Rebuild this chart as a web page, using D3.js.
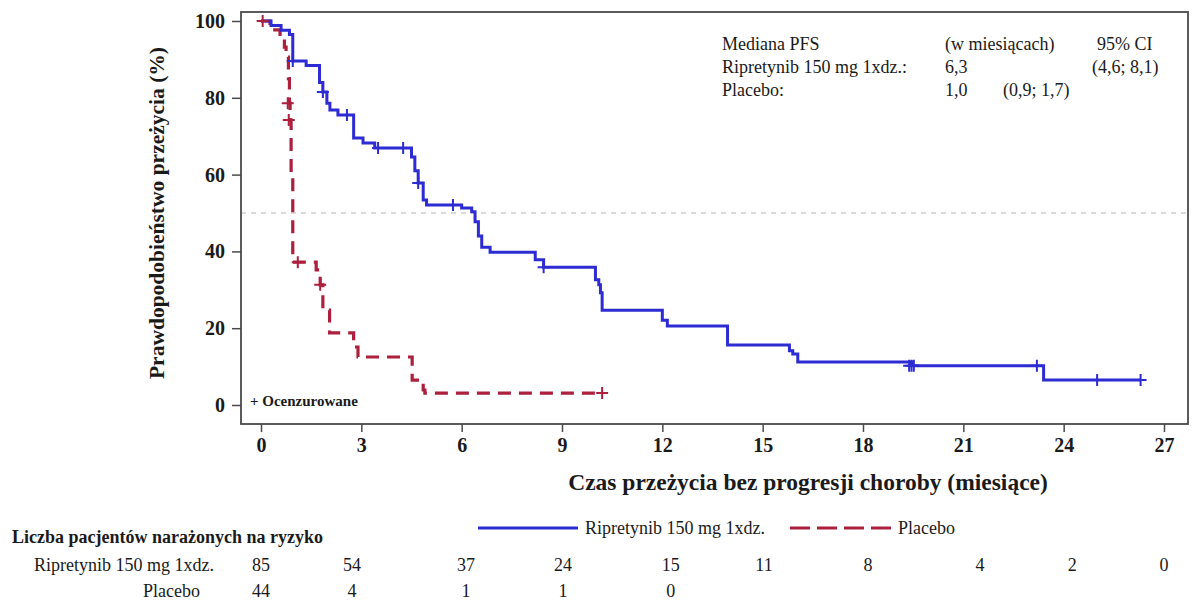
<!DOCTYPE html>
<html>
<head>
<meta charset="utf-8">
<script src="https://cdn.jsdelivr.net/npm/d3@7"></script>
<style>
  html, body { margin: 0; padding: 0; background: #fff; }
  svg { display: block; }
  text { font-family: "Liberation Serif", "Times New Roman", serif; fill: #1a1a1a; }
</style>
</head>
<body>
<svg id="chart" width="1204" height="601"></svg>
<script>
// Kaplan–Meier step data: time (months) and survival probability (%) after each step
const riprTimes = [0, 0.3, 0.6, 0.85, 0.95, 1.35, 1.75, 1.85, 1.97, 2.06, 2.3, 2.77, 3.05, 3.4, 4.5, 4.6, 4.7, 4.85, 4.95, 6.0, 6.3, 6.4, 6.5, 6.6, 6.85, 8.2, 8.45, 10.0, 10.1, 10.15, 10.2, 12.0, 12.15, 13.95, 15.8, 15.9, 16.05, 19.45, 23.4, 26.3];
const riprSurv  = [100, 98.8, 97.6, 96.5, 89.6, 88.4, 84.0, 81.5, 78.6, 76.8, 75.5, 69.5, 68.2, 66.9, 64.6, 61.0, 57.8, 53.4, 52.1, 51.3, 50.3, 47.7, 44.0, 41.1, 39.8, 37.8, 35.9, 32.6, 31.3, 29.2, 24.7, 22.1, 20.6, 15.6, 14.1, 13.3, 11.2, 10.2, 6.5, 6.5];
const riprCensT = [0.95, 1.85, 2.57, 3.5, 4.25, 4.7, 5.74, 8.45, 19.38, 19.45, 19.52, 23.2, 25.0, 26.3];
const riprCensS = [89.6, 81.5, 75.5, 66.9, 66.9, 57.8, 52.1, 35.9, 10.2, 10.2, 10.2, 10.2, 6.5, 6.5];

const placTimes = [0, 0.27, 0.57, 0.7, 0.75, 0.82, 0.85, 0.87, 0.9, 0.95, 1.65, 1.77, 1.85, 2.05, 2.77, 2.9, 4.52, 4.85, 4.9, 10.2];
const placSurv  = [100, 97.7, 95.5, 93.2, 90.6, 85.0, 78.6, 74.2, 60.0, 37.2, 35.2, 31.3, 24.7, 18.8, 15.1, 12.5, 6.5, 3.9, 3.1, 3.1];
const placCensT = [0.05, 0.8, 0.83, 1.1, 1.77, 10.2];
const placCensS = [100, 78.6, 74.2, 37.2, 31.3, 3.1];

// Axis ticks
const xTicks = [0, 3, 6, 9, 12, 15, 18, 21, 24, 27];
const yTicks = [0, 20, 40, 60, 80, 100];

// Numbers at risk
const riskRipr = [85, 54, 37, 24, 15, 11, 8, 4, 2, 0];
const riskPlac = [44, 4, 1, 1, 0];
const riskTimes = [0, 2.72, 6.13, 9.03, 12.25, 15.04, 18.15, 21.5, 24.26, 27];

// Series labels and summary
const seriesNames = ["Ripretynib 150 mg 1xdz.", "Placebo"];
const summaryRows = [
  ["Mediana PFS", "(w miesiącach)", "", "95% CI"],
  ["Ripretynib 150 mg 1xdz.:", "6,3", "", "(4,6; 8,1)"],
  ["Placebo:", "1,0", "(0,9; 1,7)", ""]
];

const blue = "#2d2bd2";
const red = "#ac1f3d";

const svg = d3.select("#chart");

const x = d3.scaleLinear().domain([0, 27]).range([261, 1164]);
const y = d3.scaleLinear().domain([0, 100]).range([405, 21]);

const frame = { left: 241, top: 12, right: 1188, bottom: 424 };

// 50% reference line
svg.append("line")
  .attr("x1", frame.left).attr("x2", frame.right)
  .attr("y1", y(50)).attr("y2", y(50))
  .attr("stroke", "#b5b5b5").attr("stroke-width", 1)
  .attr("stroke-dasharray", "5,5");

// Plot frame
svg.append("rect")
  .attr("x", frame.left).attr("y", frame.top)
  .attr("width", frame.right - frame.left).attr("height", frame.bottom - frame.top)
  .attr("fill", "none").attr("stroke", "#4a4a4a").attr("stroke-width", 1.8);

// Axes
const xAxis = svg.append("g")
  .attr("transform", `translate(0,${frame.bottom})`)
  .call(d3.axisBottom(x).tickValues(xTicks).tickSize(8).tickPadding(6).tickFormat(d3.format("d")));
const yAxis = svg.append("g")
  .attr("transform", `translate(${frame.left},0)`)
  .call(d3.axisLeft(y).tickValues(yTicks).tickSize(9).tickPadding(7).tickFormat(d3.format("d")));
[xAxis, yAxis].forEach(g => {
  g.select(".domain").remove();
  g.selectAll(".tick line").attr("stroke", "#4a4a4a").attr("stroke-width", 1.5);
  g.selectAll(".tick text")
    .attr("font-family", "Liberation Serif, serif")
    .attr("font-weight", "bold").attr("font-size", 20).attr("fill", "#1a1a1a");
});

// Axis titles
svg.append("text")
  .attr("x", 808).attr("y", 490)
  .attr("text-anchor", "middle")
  .attr("font-weight", "bold").attr("font-size", 23.5)
  .text("Czas przeżycia bez progresji choroby (miesiące)");
svg.append("text")
  .attr("transform", `translate(164,${(frame.top + frame.bottom) / 2 - 5}) rotate(-90)`)
  .attr("text-anchor", "middle")
  .attr("font-weight", "bold").attr("font-size", 21.5)
  .text("Prawdopodobieństwo przeżycia (%)");

// Step curves
const stepLine = d3.line()
  .x(d => x(d[0]))
  .y(d => y(d[1]))
  .curve(d3.curveStepAfter);

const riprPts = riprTimes.map((t, i) => [t, riprSurv[i]]);
const placPts = placTimes.map((t, i) => [t, placSurv[i]]);

svg.append("path")
  .attr("d", stepLine(placPts))
  .attr("fill", "none").attr("stroke", red).attr("stroke-width", 3.2)
  .attr("stroke-dasharray", "13,8");

svg.append("path")
  .attr("d", stepLine(riprPts))
  .attr("fill", "none").attr("stroke", blue).attr("stroke-width", 3);

// Censor marks
function censor(ts, ss, color) {
  svg.append("g").selectAll("path")
    .data(ts.map((t, i) => [t, ss[i]]))
    .join("path")
    .attr("d", d => {
      const cx = x(d[0]), cy = y(d[1]);
      return `M${cx - 6},${cy}H${cx + 6}M${cx},${cy - 6}V${cy + 6}`;
    })
    .attr("stroke", color).attr("stroke-width", 2).attr("fill", "none");
}
censor(riprCensT, riprCensS, blue);
censor(placCensT, placCensS, red);

// Censor note
svg.append("text")
  .attr("x", 250).attr("y", 406)
  .attr("font-weight", "bold").attr("font-size", 15)
  .text("+ Ocenzurowane");

// Summary table
const colX = [722, 945, 1003, 1097];
summaryRows.forEach((row, r) => {
  row.forEach((cell, c) => {
    if (!cell) return;
    let cx = colX[c];
    if (r === 1 && c === 3) cx = 1092;
    svg.append("text")
      .attr("x", cx).attr("y", 50 + r * 23)
      .attr("font-size", 18)
      .text(cell);
  });
});

// Legend
const legY = 528;
svg.append("line")
  .attr("x1", 478).attr("x2", 578).attr("y1", legY).attr("y2", legY)
  .attr("stroke", blue).attr("stroke-width", 3);
svg.append("text").attr("x", 585).attr("y", legY + 6).attr("font-size", 18).text(seriesNames[0]);
svg.append("line")
  .attr("x1", 790).attr("x2", 891).attr("y1", legY).attr("y2", legY)
  .attr("stroke", red).attr("stroke-width", 3.2).attr("stroke-dasharray", "20,7");
svg.append("text").attr("x", 898).attr("y", legY + 6).attr("font-size", 18).text(seriesNames[1]);

// Numbers at risk
svg.append("text")
  .attr("x", 12).attr("y", 543)
  .attr("font-weight", "bold").attr("font-size", 18)
  .text("Liczba pacjentów narażonych na ryzyko");
svg.append("text").attr("x", 214).attr("y", 571).attr("text-anchor", "end").attr("font-size", 18).text(seriesNames[0]);
svg.append("text").attr("x", 200).attr("y", 597).attr("text-anchor", "end").attr("font-size", 18).text(seriesNames[1]);

svg.append("g").selectAll("text")
  .data(riskRipr)
  .join("text")
  .attr("x", (d, i) => x(riskTimes[i])).attr("y", 571)
  .attr("text-anchor", "middle").attr("font-size", 18)
  .text(d => d);
svg.append("g").selectAll("text")
  .data(riskPlac)
  .join("text")
  .attr("x", (d, i) => x(riskTimes[i])).attr("y", 597)
  .attr("text-anchor", "middle").attr("font-size", 18)
  .text(d => d);
</script>
</body>
</html>
